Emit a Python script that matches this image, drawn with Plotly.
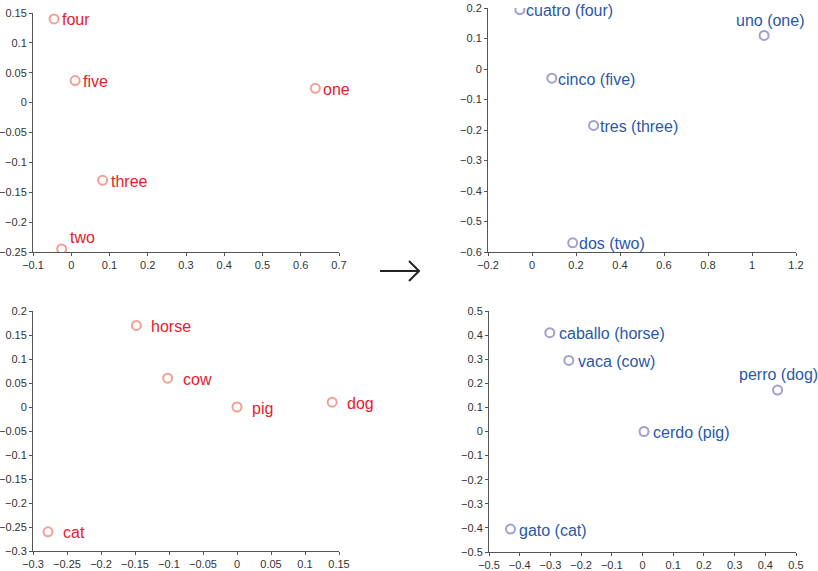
import plotly.graph_objects as go

# ---- data ----
en_num_labels = ["four", "five", "one", "three", "two"]
en_num_x = [-0.045, 0.010, 0.638, 0.082, -0.025]
en_num_y = [0.140, 0.037, 0.024, -0.130, -0.245]

es_num_labels = ["cuatro (four)", "uno (one)", "cinco (five)", "tres (three)", "dos (two)"]
es_num_x = [-0.055, 1.055, 0.090, 0.280, 0.185]
es_num_y = [0.195, 0.110, -0.030, -0.185, -0.570]

en_ani_labels = ["horse", "cow", "pig", "dog", "cat"]
en_ani_x = [-0.148, -0.102, 0.000, 0.140, -0.278]
en_ani_y = [0.170, 0.060, 0.000, 0.010, -0.260]

es_ani_labels = ["caballo (horse)", "vaca (cow)", "perro (dog)", "cerdo (pig)", "gato (cat)"]
es_ani_x = [-0.302, -0.240, 0.440, 0.005, -0.430]
es_ani_y = [0.410, 0.295, 0.172, 0.000, -0.405]

# ---- styles ----
W, H = 818, 571
RED_TXT = "#e8202a"
BLUE_TXT = "#2a58a8"
RED_MK = "rgba(236,120,105,0.7)"
BLUE_MK = "rgba(120,120,190,0.7)"
FONT = "Liberation Sans, Arial, Helvetica, sans-serif"
LABEL_SIZE = 16

panels = [
    # labels, x, y, marker color, text color, xdomain(px), ydomain(px top,bottom), xrange, yrange, dtx, dty, gap
    (en_num_labels, en_num_x, en_num_y, RED_MK, RED_TXT, (33, 339), (13, 252), [-0.1, 0.7], [-0.25, 0.15], 0.1, 0.05, 8),
    (es_num_labels, es_num_x, es_num_y, BLUE_MK, BLUE_TXT, (488, 796), (8, 252), [-0.2, 1.2], [-0.6, 0.2], 0.2, 0.1, 6),
    (en_ani_labels, en_ani_x, en_ani_y, RED_MK, RED_TXT, (33, 339), (311, 551), [-0.3, 0.15], [-0.3, 0.2], 0.05, 0.05, 15),
    (es_ani_labels, es_ani_x, es_ani_y, BLUE_MK, BLUE_TXT, (489, 796), (311, 552), [-0.5, 0.5], [-0.5, 0.5], 0.1, 0.1, 9),
]

# labels placed above the marker instead of to the right
above = {"two": ("left", 6, 1), "uno (one)": ("center", 6, 4), "perro (dog)": ("center", 1, 5)}

fig = go.Figure()
annotations = []
layout = {}
for i, (labs, xs, ys, mk, tc, xd, yd, xr, yr, dtx, dty, gap) in enumerate(panels):
    n = "" if i == 0 else str(i + 1)
    xa, ya = "x" + n, "y" + n
    fig.add_trace(go.Scatter(
        x=xs, y=ys, mode="markers", xaxis=xa, yaxis=ya,
        marker=dict(symbol="circle-open", size=9, color=mk, line=dict(width=2, color=mk)),
        hoverinfo="skip", showlegend=False))
    axis_common = dict(showgrid=False, zeroline=False, showline=True, linecolor="#555555",
                       linewidth=1, ticks="outside", ticklen=3, tickcolor="#555555",
                       automargin=False,
                       tickfont=dict(family=FONT, size=11, color="#333333"))
    layout["xaxis" + n] = dict(domain=[xd[0] / W, xd[1] / W], range=xr, dtick=dtx, tick0=0,
                               anchor=ya, **axis_common)
    layout["yaxis" + n] = dict(domain=[1 - yd[1] / H, 1 - yd[0] / H], range=yr, dtick=dty, tick0=0,
                               anchor=xa, **axis_common)
    for lab, x, y in zip(labs, xs, ys):
        if lab in above:
            anc, xs_, ys_ = above[lab]
            annotations.append(dict(x=x, y=y, xref=xa, yref=ya, text=lab, showarrow=False,
                                    xanchor=anc, yanchor="bottom", xshift=xs_, yshift=ys_,
                                    font=dict(family=FONT, size=LABEL_SIZE, color=tc)))
        else:
            annotations.append(dict(x=x, y=y, xref=xa, yref=ya, text=lab, showarrow=False,
                                    xanchor="left", yanchor="middle", xshift=gap - 2, yshift=-1,
                                    font=dict(family=FONT, size=LABEL_SIZE, color=tc)))

# arrow between the columns
ax0, ax1, ay = 380, 418, 271
arrow_path = (f"M {ax0/W},{1-ay/H} L {ax1/W},{1-ay/H} "
              f"M {(ax1-9)/W},{1-(ay-10)/H} L {(ax1+1)/W},{1-ay/H} L {(ax1-9)/W},{1-(ay+10)/H}")
fig.update_layout(
    width=W, height=H, margin=dict(l=0, r=0, t=0, b=0, autoexpand=False),
    paper_bgcolor="white", plot_bgcolor="white",
    annotations=annotations,
    shapes=[dict(type="path", xref="paper", yref="paper", path=arrow_path,
                 line=dict(color="#222222", width=2))],
    **layout)

fig.write_html("out.html", config={"displayModeBar": False},
               post_script="document.body.style.margin='0';document.body.style.overflow='hidden';")
